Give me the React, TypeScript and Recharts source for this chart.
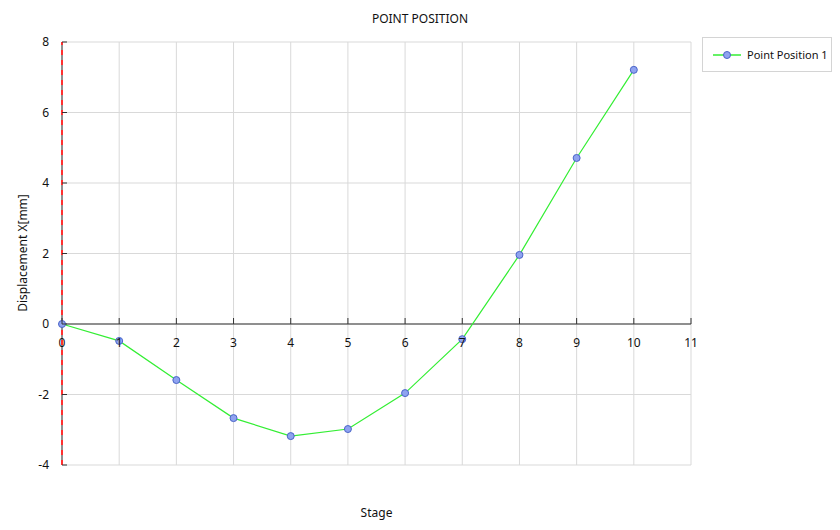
import React from "react";
import {
  LineChart,
  Line,
  XAxis,
  YAxis,
  CartesianGrid,
  ReferenceLine,
} from "recharts";

const stages = [0, 1, 2, 3, 4, 5, 6, 7, 8, 9, 10];
const displacement = [0, -0.48, -1.59, -2.67, -3.18, -2.98, -1.96, -0.43, 1.96, 4.71, 7.21];
const xTicks = [0, 1, 2, 3, 4, 5, 6, 7, 8, 9, 10, 11];
const yTicks = [-4, -2, 0, 2, 4, 6, 8];

const data = stages.map((s, i) => ({ stage: s, p1: displacement[i] }));

const FONT = "'Noto Sans', 'Open Sans', sans-serif";
const PLOT_LEFT = 62;
const PLOT_TOP = 42;
const PLOT_H = 423;
const Y_MIN = -4;
const Y_MAX = 8;
const zeroY = PLOT_TOP + (PLOT_H * Y_MAX) / (Y_MAX - Y_MIN);

function XTick(props: any) {
  const { x, payload } = props;
  return (
    <g>
      <line x1={x} x2={x} y1={zeroY - 6} y2={zeroY} stroke="#333" />
      <text x={x} y={zeroY + 23} textAnchor="middle" fontSize={12} fill="#111" fontFamily={FONT}>
        {payload.value}
      </text>
    </g>
  );
}

function YTick(props: any) {
  const { y, payload } = props;
  return (
    <g>
      <line x1={PLOT_LEFT} x2={PLOT_LEFT + 5} y1={y} y2={y} stroke="#333" />
      <text x={PLOT_LEFT - 13} y={y + 4} textAnchor="end" fontSize={12} fill="#111" fontFamily={FONT}>
        {payload.value}
      </text>
    </g>
  );
}

function LegendBox() {
  return (
    <div
      style={{
        position: "absolute",
        left: 702,
        top: 37,
        width: 130,
        height: 35,
        border: "1px solid #d4d4d4",
        background: "#fff",
        display: "flex",
        alignItems: "center",
        fontFamily: FONT,
        fontSize: 11,
        color: "#111",
        boxSizing: "border-box",
        whiteSpace: "nowrap",
      }}
    >
      <svg width={30} height={10} style={{ marginLeft: 9 }}>
        <line x1={1} x2={29} y1={5} y2={5} stroke="#33ee33" strokeWidth={1.5} />
        <circle cx={15} cy={5} r={3.5} fill="#8fa3f0" stroke="#4a64c8" />
      </svg>
      <span style={{ marginLeft: 5 }}>Point Position 1</span>
    </div>
  );
}

export default function App() {
  return (
    <div style={{ position: "absolute", left: 0, top: 0, width: 840, height: 530, background: "#fff" }}>
      <div
        style={{
          position: "absolute",
          top: 10,
          left: 0,
          width: 840,
          textAlign: "center",
          fontFamily: FONT,
          fontSize: 12,
          color: "#111",
        }}
      >
        POINT POSITION
      </div>
      <div
        style={{
          position: "absolute",
          top: 504,
          left: PLOT_LEFT,
          width: 629,
          textAlign: "center",
          fontFamily: FONT,
          fontSize: 12,
          color: "#111",
        }}
      >
        Stage
      </div>
      <div
        style={{
          position: "absolute",
          left: 22,
          top: 253,
          transform: "translate(-50%, -50%) rotate(-90deg)",
          whiteSpace: "nowrap",
          fontFamily: FONT,
          fontSize: 12,
          color: "#111",
        }}
      >
        Displacement X[mm]
      </div>
      <LineChart
        width={840}
        height={530}
        data={data}
        margin={{ top: PLOT_TOP, right: 149, bottom: 35, left: 2 }}
      >
        <CartesianGrid stroke="#d9d9d9" />
        <XAxis
          dataKey="stage"
          type="number"
          domain={[0, 11]}
          ticks={xTicks}
          axisLine={false}
          tickLine={false}
          tick={<XTick />}
          height={30}
          interval={0}
        />
        <YAxis
          type="number"
          domain={[Y_MIN, Y_MAX]}
          ticks={yTicks}
          axisLine={false}
          tickLine={false}
          tick={<YTick />}
          width={60}
          interval={0}
        />
        <ReferenceLine y={0} stroke="#333" />
        <ReferenceLine x={0} stroke="#333" />
        <ReferenceLine x={0} stroke="#ff3030" strokeWidth={2} strokeDasharray="5 5" />
        <Line
          type="linear"
          dataKey="p1"
          name="Point Position 1"
          stroke="#33ee33"
          strokeWidth={1.2}
          dot={{ r: 3.5, fill: "#8fa3f0", stroke: "#4a64c8", strokeWidth: 1 }}
          isAnimationActive={false}
        />
      </LineChart>
      <LegendBox />
    </div>
  );
}
